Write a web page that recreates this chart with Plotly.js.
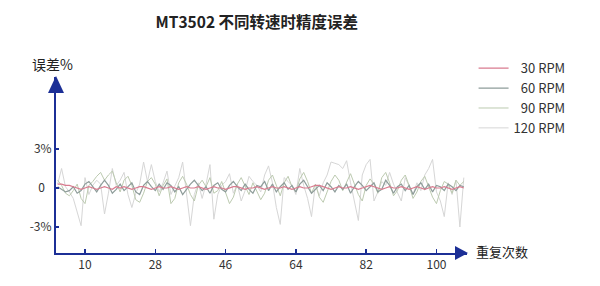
<!DOCTYPE html>
<html>
<head>
<meta charset="utf-8">
<script src="https://cdn.plot.ly/plotly-3.0.1.min.js"></script>
<style>html,body{margin:0;padding:0;background:#fff;}#chart{width:600px;height:286px;}</style>
</head>
<body>
<div id="chart"></div>
<script>
// repeat index (x values)
const repeatIdx = [];
for (let i = 3; i <= 107; i++) repeatIdx.push(i);

const xTickVals = [10, 28, 46, 64, 82, 100];
const yTickVals = [-3, 0, 3];
const yTickText = ['-3%', '0\u2007', '3%'];

const seriesNames = ['\u200730 RPM', '\u200760 RPM', '\u200790 RPM', '120 RPM'];

const rpm30 = [
  0.3,0.3,0.2,0.2,0.1,0.0,-0.1,0.0,0.1,0.0,
  -0.1,0.0,0.1,0.0,-0.1,0.1,0.0,0.1,0.0,-0.1,
  0.0,0.1,0.1,0.0,-0.1,0.0,0.1,0.0,0.0,0.1,
  0.0,-0.1,0.0,0.1,0.0,0.0,0.1,0.0,-0.1,0.0,
  0.1,0.0,0.0,-0.1,0.0,0.1,0.1,0.0,-0.1,0.0,
  0.0,0.1,0.0,-0.1,0.0,0.1,0.0,0.0,0.1,0.0,
  -0.1,0.0,0.1,0.0,0.0,0.1,0.2,0.2,0.1,0.0,
  -0.1,0.0,0.1,0.0,0.0,0.1,0.0,-0.1,0.0,0.1,
  0.2,0.1,0.0,-0.1,0.0,0.1,0.0,0.0,0.1,0.0,
  -0.1,0.0,0.1,0.0,-0.1,0.0,0.1,0.0,0.0,0.1,
  0.0,-0.1,0.0,0.1,0.0
];

const rpm60 = [
  0.1,-0.1,-0.3,-0.2,0.1,-0.4,-0.2,0.3,0.5,0.1,
  -0.3,0.2,0.6,0.2,-0.4,-0.1,0.3,-0.2,0.1,0.4,
  -0.3,-0.5,0.2,0.5,0.1,-0.2,0.3,-0.1,0.4,0.2,
  -0.3,0.1,-0.5,-0.1,0.3,0.6,0.2,-0.2,0.1,-0.4,
  0.2,0.4,-0.1,-0.3,0.2,0.5,0.1,-0.2,0.3,-0.1,
  -0.4,0.2,0.1,0.5,-0.2,0.3,-0.3,0.1,0.4,-0.1,
  0.2,-0.3,0.3,0.6,0.1,-0.4,-0.1,0.2,-0.2,0.4,
  0.1,-0.3,0.2,-0.1,0.3,-0.4,0.1,0.5,0.2,-0.2,
  0.1,0.4,-0.3,-0.1,0.6,0.2,-0.4,0.1,0.3,-0.2,
  0.2,-0.5,0.1,0.4,-0.1,0.3,-0.3,0.2,0.1,-0.2,
  0.3,0.1,-0.2,0.2,0.1
];

const rpm90 = [
  0.6,0.2,-0.4,-0.6,-0.2,0.3,-0.8,-1.2,0.2,0.5,
  0.9,1.2,0.6,1.0,1.3,0.4,-0.3,0.6,0.9,0.2,
  -0.9,-1.1,-0.4,0.5,0.8,0.3,-0.6,0.2,0.7,-1.2,
  -0.8,0.4,0.9,0.3,-0.5,-1.0,0.2,0.6,0.1,0.8,
  -0.4,-0.2,0.5,-0.3,-1.2,-0.7,0.3,0.8,0.2,-0.5,
  0.4,-0.2,-0.9,-0.4,0.6,1.0,0.2,-0.6,0.4,0.9,
  0.1,-0.3,0.7,1.2,0.5,-0.4,0.3,-0.7,-1.1,-0.3,
  0.5,1.0,0.6,-0.2,0.4,1.1,0.3,-0.5,-1.0,0.2,
  0.7,0.3,-0.4,0.8,1.2,0.4,-0.6,-0.2,0.6,1.0,
  0.2,-0.8,-0.3,0.5,0.9,0.1,-0.7,-1.2,-0.2,0.5,
  0.3,-0.4,0.6,0.2,0.5
];

const rpm120 = [
  0.3,1.5,0.1,-0.3,-0.8,-1.9,-2.9,0.8,-0.5,0.2,
  0.6,0.3,-2.0,-0.4,1.5,0.2,0.6,1.2,-0.5,-1.5,
  -0.4,0.3,2.0,0.5,1.8,0.5,-0.3,0.4,1.3,-0.5,
  0.2,0.8,2.0,-0.6,-2.9,-0.5,0.4,-0.8,0.3,1.8,
  -2.4,-0.5,0.2,0.5,1.1,-0.4,0.3,-1.0,-0.2,0.9,
  0.5,0.2,-0.3,1.0,1.7,0.4,-1.5,-2.8,0.8,0.5,
  0.2,-0.5,1.5,0.2,-0.8,-2.2,0.3,-0.6,0.4,1.0,
  2.0,1.9,1.8,1.5,2.1,0.4,-1.2,-2.5,1.0,1.8,
  2.2,-1.0,-0.3,0.5,0.2,1.2,0.3,-0.4,-1.0,0.8,
  0.2,-0.5,0.4,-0.2,1.0,1.5,2.2,-0.3,-1.0,-2.2,
  0.4,-0.5,0.6,-3.0,0.8
];

const seriesData = [rpm30, rpm60, rpm90, rpm120];
const seriesColors = ['#d97b8f', '#8e9c9a', '#bccab0', '#d6d6d6'];
const seriesWidths = [1.2, 1.2, 1, 1];

const axisColor = '#1c2f96';
const font = '"Noto Sans CJK SC", "Noto Sans", sans-serif';

// draw order: 120 first (bottom), 30 last (top)
const traces = [];
for (let k = seriesData.length - 1; k >= 0; k--) {
  traces.push({
    type: 'scatter', mode: 'lines',
    x: repeatIdx, y: seriesData[k],
    name: seriesNames[k],
    line: {color: seriesColors[k], width: seriesWidths[k]},
    hoverinfo: 'skip'
  });
}

const layout = {
  width: 600, height: 286,
  margin: {l: 56, r: 133, t: 77, b: 33},
  paper_bgcolor: '#ffffff', plot_bgcolor: '#ffffff',
  font: {family: font, color: '#333333', size: 12},
  title: {
    text: '<b>MT3502 不同转速时精度误差</b>',
    font: {family: font, size: 15.5, color: '#222222'},
    xref: 'container', x: 0.428, xanchor: 'center',
    yref: 'container', y: 1 - 23 / 286, yanchor: 'middle'
  },
  showlegend: true,
  legend: {
    x: 1.016, xanchor: 'left', y: 1.135, yanchor: 'top',
    traceorder: 'reversed',
    font: {family: font, size: 13, color: '#333333'},
    bgcolor: 'rgba(0,0,0,0)'
  },
  xaxis: {
    range: [2.574, 107.82],
    tickvals: xTickVals,
    ticks: 'inside', ticklen: 4, tickwidth: 1.5, tickcolor: axisColor,
    showline: true, linecolor: axisColor, linewidth: 2,
    showgrid: false, zeroline: false,
    tickfont: {family: font, size: 12, color: '#333333'},
    fixedrange: true
  },
  yaxis: {
    range: [-5.0, 8.54],
    tickvals: yTickVals, ticktext: yTickText,
    ticks: 'inside', ticklen: 3, tickwidth: 1.5, tickcolor: axisColor,
    showline: true, linecolor: axisColor, linewidth: 2,
    showgrid: false, zeroline: false,
    tickfont: {family: font, size: 12, color: '#333333'},
    fixedrange: true
  },
  shapes: [
    {type: 'path', xref: 'paper', yref: 'paper', xsizemode: 'pixel', ysizemode: 'pixel',
     xanchor: 1, yanchor: 0, path: 'M 1 0 L -12 7 L -12 -7 Z',
     fillcolor: axisColor, line: {width: 0}, layer: 'above'},
    {type: 'path', xref: 'paper', yref: 'paper', xsizemode: 'pixel', ysizemode: 'pixel',
     xanchor: 0, yanchor: 1, path: 'M 0 1 L -8 -16 L 8 -16 Z',
     fillcolor: axisColor, line: {width: 0}, layer: 'above'}
  ],
  annotations: [
    {text: '误差%', xref: 'paper', yref: 'paper', x: (30 - 56) / 411, y: (286 - 33 - 64) / 176,
     xanchor: 'left', yanchor: 'middle', showarrow: false,
     font: {family: font, size: 14, color: '#222222'}},
    {text: '重复次数', xref: 'paper', yref: 'paper', x: (474 - 56) / 411, y: 0.01,
     xanchor: 'left', yanchor: 'middle', showarrow: false,
     font: {family: font, size: 13, color: '#222222'}}
  ]
};

Plotly.newPlot('chart', traces, layout, {displayModeBar: false, staticPlot: true});
</script>
</body>
</html>
